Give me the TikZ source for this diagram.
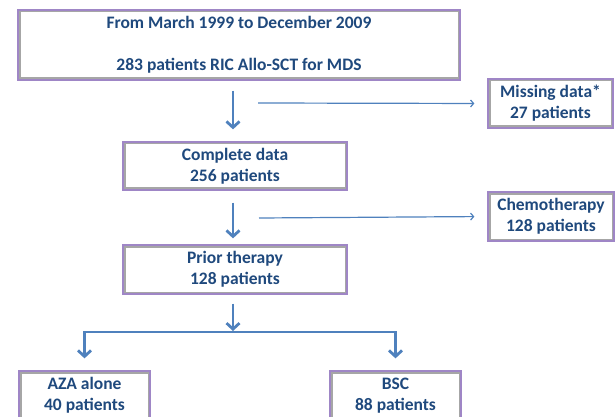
\documentclass[tikz,border=0pt]{standalone}
\usepackage{fontspec}
\setmainfont{Carlito}
\usetikzlibrary{arrows.meta}
\definecolor{txtblue}{HTML}{1F497D}
\definecolor{arrblue}{HTML}{4F81BD}
\definecolor{boxpurple}{HTML}{9F86C6}
\begin{document}
\begin{tikzpicture}[x=1pt,y=-1pt,
  box/.style={draw=boxpurple,line width=1.3pt,fill=white,text=txtblue,
    font=\bfseries\fontsize{17.5}{21}\selectfont,align=center,inner sep=0pt,
    path picture={\draw[black!35,line width=5pt] (path picture bounding box.south west)
      rectangle (path picture bounding box.north east);}},
  bigarrow/.style={arrblue,line width=2.8pt,-{Straight Barb[length=6pt,width=13pt]}},
  thinarrow/.style={arrblue,line width=1.2pt,-{Straight Barb[length=3pt,width=7pt]}}]

\useasboundingbox (0,0) rectangle (616,417);

% boxes
\node[box,minimum width=442pt,minimum height=70pt] (top) at (239,45)
  {From March 1999 to December 2009\\[21pt]283 patients RIC Allo-SCT for MDS};
\node[box,minimum width=125pt,minimum height=49pt] (miss) at (550.5,103.5) {Missing data*\\27 patients};
\node[box,minimum width=224pt,minimum height=48pt] (cmp) at (235,166) {Complete data\\256 patients};
\node[box,minimum width=126pt,minimum height=49pt] (chemo) at (551,216.5) {Chemotherapy\\128 patients};
\node[box,minimum width=224pt,minimum height=49pt] (prior) at (235,269.5) {Prior therapy\\128 patients};
\node[box,minimum width=131pt,minimum height=49pt] (aza) at (84.5,395.5) {AZA alone\\40 patients};
\node[box,minimum width=131pt,minimum height=49pt] (bsc) at (395.5,395.5) {BSC\\88 patients};

\coordinate (b1) at (258,103);
\coordinate (b2) at (259,218);
\coordinate (split) at (233,332);

% arrows
\draw[bigarrow,shorten <=10pt,shorten >=12pt] (split |- top.south) -- (split |- cmp.north);
\draw[thinarrow,shorten >=13pt] (b1) -- (miss.west);
\draw[bigarrow,shorten <=12pt,shorten >=6pt] (split |- cmp.south) -- (split |- prior.north);
\draw[thinarrow,shorten >=13pt] (b2) -- (chemo.west);
\draw[bigarrow,shorten <=9pt,shorten >=1pt] (split |- prior.south) -- (split);
\draw[bigarrow,shorten >=12pt] (split) -| (aza.north);
\draw[bigarrow,shorten >=12pt] (split) -| (bsc.north);
\end{tikzpicture}
\end{document}
